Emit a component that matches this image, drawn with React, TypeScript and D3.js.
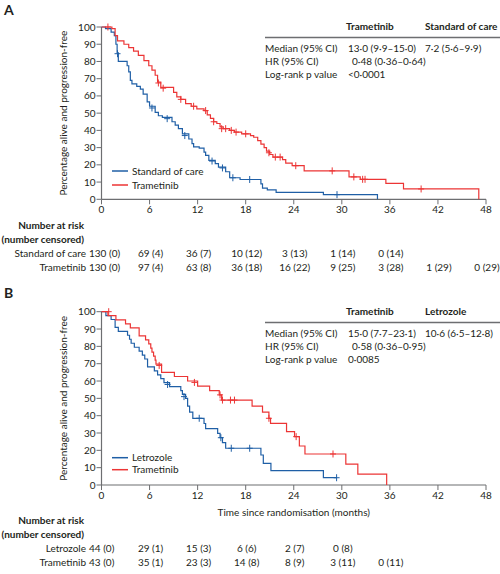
import React from 'react';
import * as d3 from 'd3';

// ---- data ----
const xTicks = [0, 6, 12, 18, 24, 30, 36, 42, 48];
const yTicks = [0, 10, 20, 30, 40, 50, 60, 70, 80, 90, 100];

// Panel A: Standard of care vs trametinib, [months, % progression-free]
const socSteps: [number, number][] = [
  [0, 100], [0.5, 99], [1.2, 97], [1.6, 95], [1.8, 90], [1.95, 85], [2.1, 80], [3.2, 77.5],
  [3.4, 74], [3.6, 69], [3.8, 67], [4.4, 65.5], [4.85, 64], [5.2, 61], [5.7, 56.5],
  [6.0, 54], [6.7, 50.5], [7.1, 48.5], [7.6, 47.5], [8.8, 45], [9.2, 43], [9.6, 41],
  [10.1, 38], [10.9, 35], [11.3, 32.3], [11.5, 30.4], [12.2, 29.7], [12.8, 27.4],
  [13.0, 25.5], [13.4, 22.6], [14.2, 20.7], [14.6, 18.7], [15.5, 16], [16.0, 12.5],
  [17.3, 11.5], [19.9, 9], [20.1, 6.5], [20.7, 5.5], [21.8, 4], [27.7, 2.7], [34.45, 0],
];
const socCensored: [number, number][] = [
  [2.0, 84.5], [6.3, 53], [8.2, 46.8], [10.4, 37], [13.8, 22.2], [15.1, 18.2],
  [16.4, 12.5], [18.5, 11.5], [29.4, 2.7],
];
const tramASteps: [number, number][] = [
  [0, 100], [1.3, 99], [1.7, 95], [2.0, 92], [2.8, 90], [3.4, 88], [4.0, 86], [4.6, 83.5],
  [5.3, 80.5], [5.9, 77.5], [6.3, 75], [6.7, 72], [7.0, 68], [7.4, 65], [9.0, 62],
  [9.4, 59.5], [9.9, 58], [10.5, 55.5], [11.2, 54], [11.9, 52.5], [12.8, 51.5],
  [13.2, 49], [13.6, 47], [14.0, 45], [14.4, 44], [14.8, 42], [15.2, 41], [16.0, 40],
  [16.6, 39], [17.5, 38], [18.6, 37], [19.0, 36], [19.5, 34], [19.9, 32], [20.3, 30],
  [20.6, 28], [21.0, 26], [21.4, 24.5], [22.6, 23], [23.0, 21], [23.8, 19.5],
  [25.3, 16.5], [30.9, 13], [32.3, 11.6], [35.5, 9.3], [37.7, 6], [47.1, 0],
];
const tramACensored: [number, number][] = [
  [0.8, 100], [7.1, 67.5], [7.7, 64.5], [9.9, 58], [11.5, 54], [13.0, 51.5], [14.0, 45],
  [15.0, 41], [15.5, 41], [16.2, 40], [16.8, 39], [18.0, 38], [20.9, 27], [21.7, 24.5],
  [22.3, 24.5], [24.25, 19.5], [28.8, 16.5], [31.5, 13], [32.6, 11.6], [32.9, 11.6],
  [39.9, 6],
];

// Panel B: Letrozole vs trametinib
const letSteps: [number, number][] = [
  [0, 100], [0.55, 97.7], [1.2, 95.5], [1.7, 90.9], [2.1, 88.6], [3.25, 86.4], [3.5, 84.1],
  [3.7, 81.8], [4.1, 79.5], [4.7, 77.3], [5.1, 75], [5.4, 72.7], [5.75, 68.2], [6.6, 65.9],
  [7.0, 63.6], [7.4, 61.4], [7.8, 59.1], [8.5, 56.8], [9.9, 54.5], [10.1, 52.3],
  [10.5, 50], [10.75, 45.5], [11.0, 42], [11.4, 38.5], [12.8, 35.5], [13.0, 32.5],
  [14.5, 29.8], [14.8, 27.3], [15.1, 24.5], [15.5, 21.2], [19.9, 17.3], [20.2, 12.5],
  [21.15, 8.3], [27.7, 4.2], [29.35, 4.2],
];
const letCensored: [number, number][] = [
  [8.25, 58], [10.3, 51], [12.2, 38.5], [14.9, 27.3], [16.2, 21.2], [18.5, 21.2],
  [29.35, 4.2],
];
const tramBSteps: [number, number][] = [
  [0, 100], [0.8, 97.7], [1.8, 95.3], [3.0, 93], [3.6, 90.7], [4.7, 86], [5.5, 83.7],
  [5.9, 81.4], [6.15, 79], [6.3, 76.7], [6.5, 74.4], [6.7, 72], [6.8, 69.8], [7.5, 65],
  [9.1, 62.6], [10.75, 60], [12.0, 57], [13.5, 54.5], [14.7, 52], [15.0, 49],
  [18.8, 45.5], [20.1, 42], [20.9, 38.5], [21.1, 35.6], [23.1, 30.8], [24.1, 27.9],
  [24.7, 22.5], [25.4, 17.9], [30.5, 12], [32.0, 6.3], [35.6, 0],
];
const tramBCensored: [number, number][] = [
  [0.9, 100], [7.2, 69], [11.6, 59.2], [14.8, 52], [15.1, 49], [16.1, 49], [16.6, 49],
  [20.9, 38.5], [24.3, 27.9], [28.9, 17.9],
];

// stats tables
const statRowLabels = ['Median (95% CI)', 'HR (95% CI)', 'Log-rank p value'];
const statsA = { heads: ['Trametinib', 'Standard of care'], median: ['13·0 (9·9–15·0)', '7·2 (5·6–9·9)'], hr: '0·48 (0·36–0·64)', p: '<0·0001' };
const statsB = { heads: ['Trametinib', 'Letrozole'], median: ['15·0 (7·7–23·1)', '10·6 (6·5–12·8)'], hr: '0·58 (0·36–0·95)', p: '0·0085' };

// number at risk (number censored), one entry per x tick
const riskSoc = ['130 (0)', '69 (4)', '36 (7)', '10 (12)', '3 (13)', '1 (14)', '0 (14)'];
const riskTramA = ['130 (0)', '97 (4)', '63 (8)', '36 (18)', '16 (22)', '9 (25)', '3 (28)', '1 (29)', '0 (29)'];
const riskLet = ['44 (0)', '29 (1)', '15 (3)', '6 (6)', '2 (7)', '0 (8)'];
const riskTramB = ['43 (0)', '35 (1)', '23 (3)', '14 (8)', '8 (9)', '3 (11)', '0 (11)'];

const BLUE = '#1f5fa6';
const RED = '#ec3535';
const TEXT = '#231f20';
const AXIS = '#6d6e71';
const FONT = 'Lato, "Liberation Sans", sans-serif';

const x = d3.scaleLinear().domain([0, 48]).range([101.5, 486]);

interface Series {
  name: string;
  color: string;
  steps: [number, number][];
  censored: [number, number][];
  risk: string[];
}

interface PanelProps {
  letter: string;
  letterY: number;
  yRange: [number, number];
  series: Series[];
  stats: typeof statsA;
  statsTop: number;
  legendY: number;
  legendGap: number;
  riskTop: number;
  xTitle?: string;
}

const Panel: React.FC<PanelProps> = ({ letter, letterY, yRange, series, stats, statsTop, legendY, legendGap, riskTop, xTitle }) => {
  const y = d3.scaleLinear().domain([0, 100]).range(yRange);
  const y0 = y(0);
  const line = d3.line<[number, number]>()
    .x(d => x(d[0]))
    .y(d => y(d[1]))
    .curve(d3.curveStepAfter);

  return (
    <g fontFamily={FONT} fill={TEXT}>
      <text x={4} y={letterY} fontSize={14} fontWeight="bold">{letter}</text>

      {/* y axis */}
      <line x1={x(0)} x2={x(0)} y1={y(0)} y2={y(100)} stroke={AXIS} strokeWidth={1.2} />
      {yTicks.map(t => (
        <g key={t}>
          <line x1={x(0) - 5} x2={x(0)} y1={y(t)} y2={y(t)} stroke={AXIS} strokeWidth={1} />
          <text x={x(0) - 6} y={y(t)} dy="0.35em" textAnchor="end" fontSize={10}>{t}</text>
        </g>
      ))}
      <text
        transform={`translate(67, ${(y(0) + y(100)) / 2}) rotate(-90)`}
        textAnchor="middle"
        fontSize={10}
      >
        Percentage alive and progression-free
      </text>

      {/* x axis */}
      <line x1={x(0)} x2={x(48)} y1={y0} y2={y0} stroke={AXIS} strokeWidth={1.2} />
      {xTicks.map(t => (
        <g key={t}>
          <line x1={x(t)} x2={x(t)} y1={y0} y2={y0 + 5} stroke={AXIS} strokeWidth={1} />
          <text x={x(t)} y={y0 + 14} textAnchor="middle" fontSize={10}>{t}</text>
        </g>
      ))}
      {xTitle && (
        <text x={(x(0) + x(48)) / 2} y={y0 + 31} textAnchor="middle" fontSize={10}>{xTitle}</text>
      )}

      {/* curves */}
      {series.map(s => (
        <g key={s.name}>
          <path d={line(s.steps) ?? ''} fill="none" stroke={s.color} strokeWidth={1.2} />
          {s.censored.map((c, i) => (
            <path
              key={i}
              d={`M${x(c[0])},${y(c[1]) - 3.5}V${y(c[1]) + 3.5}M${x(c[0]) - 3},${y(c[1])}H${x(c[0]) + 3}`}
              stroke={s.color}
              strokeWidth={1}
            />
          ))}
        </g>
      ))}

      {/* legend */}
      {series.map((s, i) => (
        <g key={s.name} transform={`translate(112, ${legendY + i * legendGap})`}>
          <line x1={0} x2={16} y1={0} y2={0} stroke={s.color} strokeWidth={1.5} />
          <text x={20} y={0} dy="0.35em" fontSize={10}>{s.name}</text>
        </g>
      ))}

      {/* stats table */}
      <g fontSize={10}>
        <text x={346} y={statsTop} fontWeight="bold">{stats.heads[0]}</text>
        <text x={425} y={statsTop} fontWeight="bold">{stats.heads[1]}</text>
        <line x1={265} x2={500} y1={statsTop + 7.5} y2={statsTop + 7.5} stroke={AXIS} strokeWidth={1.3} />
        {statRowLabels.map((l, i) => (
          <text key={l} x={265} y={statsTop + 22 + i * 13}>{l}</text>
        ))}
        <text x={348} y={statsTop + 22}>{stats.median[0]}</text>
        <text x={425} y={statsTop + 22}>{stats.median[1]}</text>
        <text x={352} y={statsTop + 35}>{stats.hr}</text>
        <text x={348} y={statsTop + 48}>{stats.p}</text>
      </g>

      {/* number at risk */}
      <g fontSize={10}>
        <text x={84} y={riskTop} textAnchor="end" fontWeight="bold">Number at risk</text>
        <text x={84} y={riskTop + 14} textAnchor="end" fontWeight="bold">(number censored)</text>
        {series.map((s, i) => (
          <g key={s.name}>
            <text x={86} y={riskTop + 28 + i * 13.5} textAnchor="end">{s.name}</text>
            {s.risk.map((r, j) => (
              j === 0
                ? <text key={j} x={89} y={riskTop + 28 + i * 13.5}>{r}</text>
                : <text key={j} x={x(xTicks[j]) + 1} y={riskTop + 28 + i * 13.5} textAnchor="middle">{r}</text>
            ))}
          </g>
        ))}
      </g>
    </g>
  );
};

export default function App() {
  const seriesA: Series[] = [
    { name: 'Standard of care', color: BLUE, steps: socSteps, censored: socCensored, risk: riskSoc },
    { name: 'Trametinib', color: RED, steps: tramASteps, censored: tramACensored, risk: riskTramA },
  ];
  const seriesB: Series[] = [
    { name: 'Letrozole', color: BLUE, steps: letSteps, censored: letCensored, risk: riskLet },
    { name: 'Trametinib', color: RED, steps: tramBSteps, censored: tramBCensored, risk: riskTramB },
  ];
  return (
    <svg
      width={500}
      height={574}
      style={{ position: 'absolute', left: 0, top: 0, background: '#fff' }}
    >
      <Panel
        letter="A"
        letterY={15}
        yRange={[199.3, 27]}
        series={seriesA}
        stats={statsA}
        statsTop={30}
        legendY={171}
        legendGap={14}
        riskTop={229}
      />
      <Panel
        letter="B"
        letterY={298}
        yRange={[485, 311.7]}
        series={seriesB}
        stats={statsB}
        statsTop={315}
        legendY={457.7}
        legendGap={12}
        riskTop={524}
        xTitle="Time since randomisation (months)"
      />
    </svg>
  );
}
